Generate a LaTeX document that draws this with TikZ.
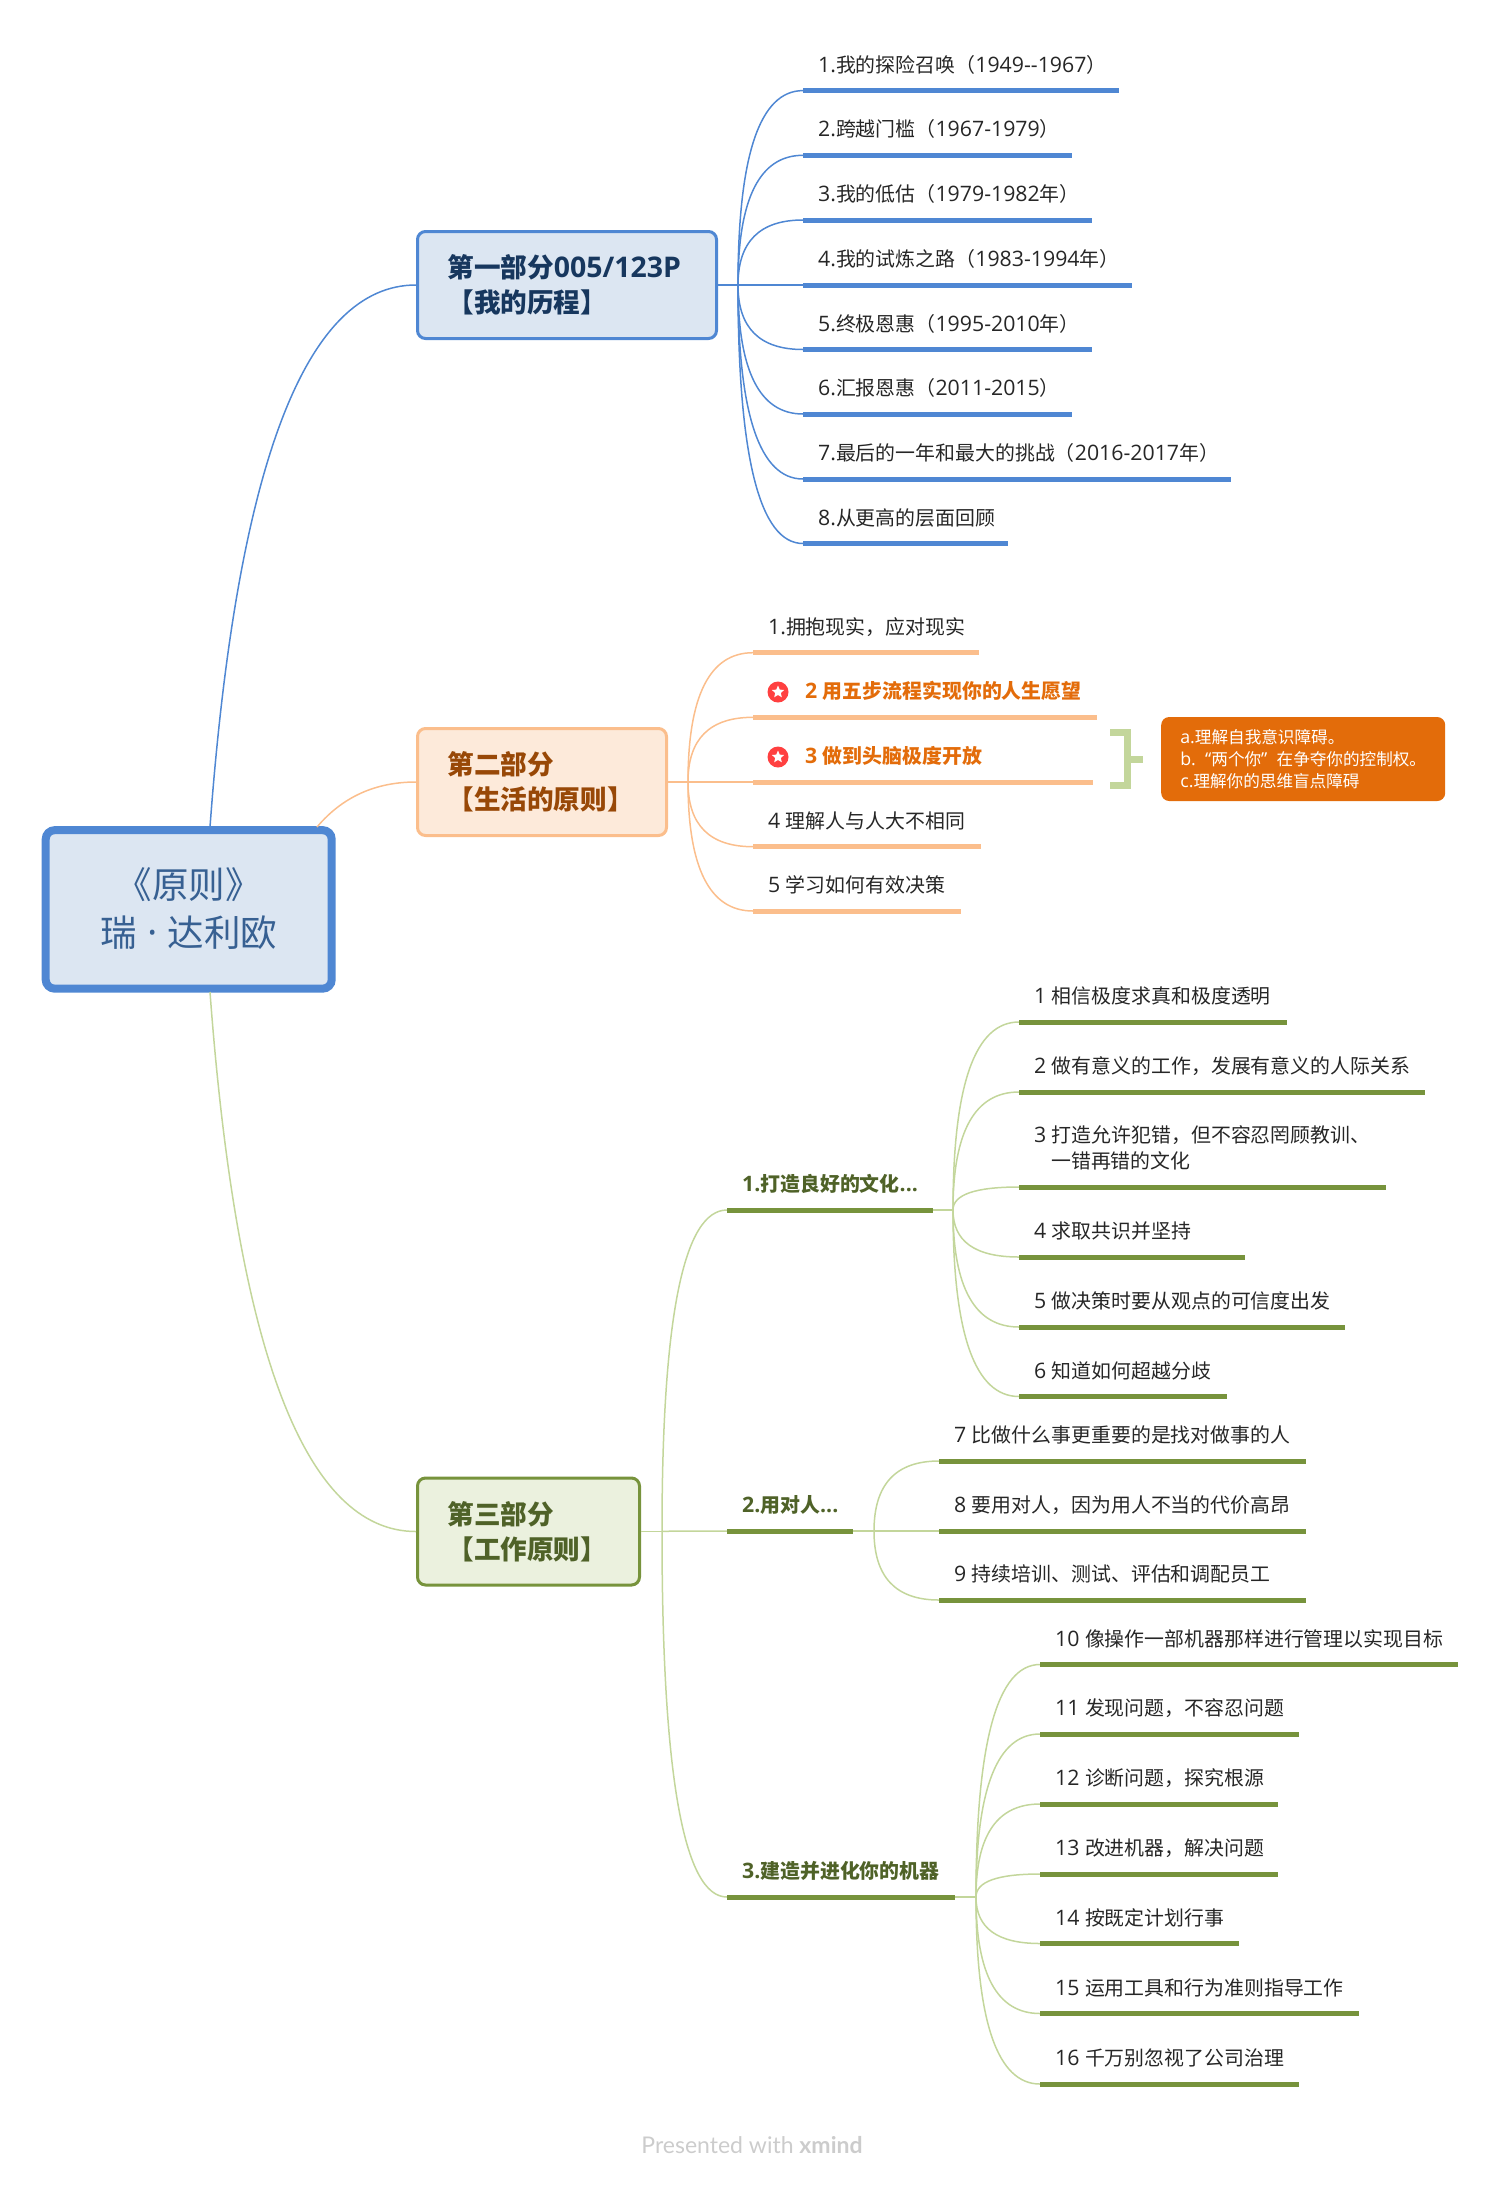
\documentclass[tikz,border=0pt]{standalone}
\usepackage{fontspec}
\setmainfont{Noto Sans CJK SC}
\newfontfamily\latfont[Scale=1.07]{Open Sans}
\newfontfamily\footfont{Lato}
\newcommand\lat[1]{{\latfont #1}}
\usetikzlibrary{calc,shapes.geometric}
\definecolor{blueline}{HTML}{4F87D3}
\definecolor{orangeline}{HTML}{FBBE8C}
\definecolor{greenline}{HTML}{C3D69B}
\definecolor{greenbar}{HTML}{77933C}
\definecolor{bluefill}{HTML}{DCE6F2}
\definecolor{orangefill}{HTML}{FDEADA}
\definecolor{greenfill}{HTML}{EBF1DE}
\definecolor{rootink}{HTML}{376092}
\definecolor{blueink}{HTML}{17375E}
\definecolor{orangeink}{HTML}{984807}
\definecolor{greenink}{HTML}{4F6228}
\definecolor{noteorange}{HTML}{E36C0A}
\definecolor{leafink}{HTML}{262626}
\begin{document}
\begin{tikzpicture}[x=1pt,y=-1pt,
	curved/.style={to path={.. controls ($(\tikztostart)!.667!(#1)$) and ($(\tikztotarget)!.667!(#1)$) .. (\tikztotarget)}},
	root/.style={draw=blueline,fill=bluefill,line width=8pt,rounded corners=9pt,minimum width=286pt,minimum height=158.5pt,align=center,text=rootink,font={\fontsize{36.5}{48}\selectfont}},
	topic/.style={line width=3pt,rounded corners=8pt,minimum height=107pt,inner xsep=30pt,align=left,font={\fontsize{26.6}{35}\selectfont\bfseries}},
	leaf/.style={anchor=west,inner sep=0pt,align=left,text=leafink,font={\fontsize{19.9}{26}\selectfont}},
	bluelink/.style={blueline,line width=1.5pt},
	orangelink/.style={orangeline,line width=1.5pt},
	greenlink/.style={greenline,line width=1.5pt},
	bluebar/.style={blueline,line width=5pt},
	orangebar/.style={orangeline,line width=5pt},
	greenthick/.style={greenbar,line width=5pt},
	starred/.style={leaf,text=noteorange,font={\fontsize{19.9}{26}\selectfont\bfseries}},
	subhead/.style={leaf,text=greenink,font={\fontsize{19.9}{26}\selectfont\bfseries}},
	redcircle/.style={circle,fill=red!75!white,inner sep=0pt,minimum size=21pt},
	whitestar/.style={star,star points=5,star point ratio=2.2,fill=white,inner sep=0pt,minimum size=13pt},
	]
	\useasboundingbox (0,0) rectangle (1500,2185);

	\node[root] (root) at (188.7,909.4) {《原则》\\瑞\lat{ · }达利欧\rule[-5pt]{0pt}{1pt}};
	\node[topic,draw=blueline,fill=bluefill,text=blueink,minimum width=299pt,text width=239pt] (partA) at (567,285) {第一部分\lat{005/123P}\\ 【我的历程】};
	\node[topic,draw=orangeline,fill=orangefill,text=orangeink,minimum width=249pt,text width=189pt] (partB) at (542,782) {第二部分\\ 【生活的原则】};
	\node[topic,draw=greenbar,fill=greenfill,text=greenink,minimum width=222pt,text width=162pt] (partC) at (528.5,1531.5) {第三部分\\ 【工作原则】};

	\coordinate (rootA) at (210,827);
	\coordinate (rootB) at (317,827);
	\coordinate (rootC) at (210,992);
	\coordinate (ctrlA) at (250,285);
	\coordinate (ctrlB) at (355,782);
	\coordinate (ctrlC) at (250,1531.5);
	\draw[bluelink] (rootA) to[curved=ctrlA] (partA.west);
	\draw[orangelink] (rootB) to[curved=ctrlB] (partB.west);
	\draw[greenlink] (rootC) to[curved=ctrlC] (partC.west);

	% part one
	\coordinate (joinA) at (738,285);
	\draw[bluelink] (partA.east) -- (joinA);
	\foreach \n/\y/\xe/\txt in {
		1/90.6/1119/{\lat{1.}我的探险召唤（\lat{1949{-}{-}1967}）},
		2/155.3/1072/{\lat{2.}跨越门槛（\lat{1967-1979}）},
		3/220/1092/{\lat{3.}我的低估（\lat{1979-1982}年）},
		4/285/1132/{\lat{4.}我的试炼之路（\lat{1983-1994}年）},
		5/349.5/1092/{\lat{5.}终极恩惠（\lat{1995-2010}年）},
		6/414/1072/{\lat{6.}汇报恩惠（\lat{2011-2015}）},
		7/479/1231/{\lat{7.}最后的一年和最大的挑战（\lat{2016-2017}年）},
		8/543.5/1008/{\lat{8.}从更高的层面回顾}}{
		\coordinate (as\n) at (803,\y);
		\coordinate (ae\n) at (\xe,\y);
		\node[leaf] (a\n) at ($(as\n)+(15,-26)$) {\txt};
		\draw[bluelink] (joinA) to[curved=joinA|-as\n] (as\n);
		\draw[bluebar] (as\n) -- (ae\n);
	}

	% part two
	\coordinate (joinB) at (688,782);
	\draw[orangelink] (partB.east) -- (joinB);
	\foreach \n/\y/\xe/\lft/\sty/\txt in {
		1/652.7/979/15/leaf/{\lat{1.}拥抱现实，应对现实},
		2/717.3/1097/52/starred/{\lat{2 }用五步流程实现你的人生愿望},
		3/782/1093/52/starred/{\lat{3 }做到头脑极度开放},
		4/846.7/981/15/leaf/{\lat{4 }理解人与人大不相同},
		5/911/961/15/leaf/{\lat{5 }学习如何有效决策}}{
		\coordinate (bs\n) at (753,\y);
		\coordinate (be\n) at (\xe,\y);
		\node[\sty] (b\n) at ($(bs\n)+(\lft,-26)$) {\txt};
		\draw[orangelink] (joinB) to[curved=joinB|-bs\n] (bs\n);
		\draw[orangebar] (bs\n) -- (be\n);
	}
	\node[redcircle] (dotB2) at (778,692) {};
	\node[whitestar] (starB2) at (778,692) {};
	\node[redcircle] (dotB3) at (778,757) {};
	\node[whitestar] (starB3) at (778,757) {};

	% bracket and note
	\node[anchor=west,fill=noteorange,rounded corners=8pt,text=white,align=left,inner xsep=15pt,minimum height=84pt,minimum width=284pt,font={\fontsize{16.6}{22}\selectfont}] (note) at (1161,759) {\lat{a.}理解自我意识障碍。\\\lat{b.\ \ “}两个你\lat{”\ \ }在争夺你的控制权。\\\lat{c.}理解你的思维盲点障碍};
	\coordinate (brTop) at (1110,732.5);
	\coordinate (brLow) at (1110,785.5);
	\coordinate (brTip) at (1143,759);
	\draw[greenline,line width=7pt] (brTop) -- (brTop-|1127.5,0) -- (brLow-|1127.5,0) -- (brLow);
	\draw[greenline,line width=7pt] (brTip-|1127.5,0) -- (brTip);

	% part three
	\coordinate (joinC) at (662,1531.5);
	\draw[greenlink] (partC.east) -- (joinC);
	\foreach \n/\y/\xe/\txt in {
		1/1210/933/{\lat{1.}打造良好的文化\lat{...}},
		2/1531/853/{\lat{2.}用对人\lat{...}},
		3/1897/955/{\lat{3.}建造并进化你的机器}}{
		\coordinate (cs\n) at (727,\y);
		\coordinate (ce\n) at (\xe,\y);
		\node[subhead] (c\n) at ($(cs\n)+(15,-26)$) {\txt};
		\draw[greenlink] (joinC) to[curved=joinC|-cs\n] (cs\n);
		\draw[greenthick] (cs\n) -- (ce\n);
	}

	\coordinate (joinD) at (953,1210);
	\draw[greenlink] (ce1) -- (joinD);
	\foreach \n/\y/\xe/\dy/\txt in {
		1/1022/1287/26/{\lat{1 }相信极度求真和极度透明},
		2/1092/1425/26/{\lat{2 }做有意义的工作，发展有意义的人际关系},
		3/1187/1386/39/{\lat{3 }打造允许犯错，但不容忍罔顾教训、\\\hspace{17pt}一错再错的文化},
		4/1257/1245/26/{\lat{4 }求取共识并坚持},
		5/1327/1345/26/{\lat{5 }做决策时要从观点的可信度出发},
		6/1396.5/1227/26/{\lat{6 }知道如何超越分歧}}{
		\coordinate (ds\n) at (1019,\y);
		\coordinate (de\n) at (\xe,\y);
		\node[leaf] (d\n) at ($(ds\n)+(15,-\dy)$) {\txt};
		\draw[greenlink] (joinD) to[curved=joinD|-ds\n] (ds\n);
		\draw[greenthick] (ds\n) -- (de\n);
	}

	\coordinate (joinE) at (874,1531);
	\draw[greenlink] (ce2) -- (joinE);
	\foreach \n/\y/\txt in {
		7/1461/{\lat{7 }比做什么事更重要的是找对做事的人},
		8/1531/{\lat{8 }要用对人，因为用人不当的代价高昂},
		9/1600/{\lat{9 }持续培训、测试、评估和调配员工}}{
		\coordinate (es\n) at (939,\y);
		\coordinate (ee\n) at (1306,\y);
		\node[leaf] (e\n) at ($(es\n)+(15,-26)$) {\txt};
		\draw[greenlink] (joinE) to[curved=joinE|-es\n] (es\n);
		\draw[greenthick] (es\n) -- (ee\n);
	}

	\coordinate (joinF) at (976,1897);
	\draw[greenlink] (ce3) -- (joinF);
	\foreach \n/\y/\xe/\txt in {
		10/1664.5/1458/{\lat{10 }像操作一部机器那样进行管理以实现目标},
		11/1734/1299/{\lat{11 }发现问题，不容忍问题},
		12/1804/1278/{\lat{12 }诊断问题，探究根源},
		13/1874/1278/{\lat{13 }改进机器，解决问题},
		14/1943.5/1239/{\lat{14 }按既定计划行事},
		15/2013.5/1359/{\lat{15 }运用工具和行为准则指导工作},
		16/2084/1299/{\lat{16 }千万别忽视了公司治理}}{
		\coordinate (fs\n) at (1040,\y);
		\coordinate (fe\n) at (\xe,\y);
		\node[leaf] (f\n) at ($(fs\n)+(15,-26)$) {\txt};
		\draw[greenlink] (joinF) to[curved=joinF|-fs\n] (fs\n);
		\draw[greenthick] (fs\n) -- (fe\n);
	}

	\node[inner sep=0pt,text=black!20,font={\fontsize{23}{26}\footfont}] (credit) at (752,2145) {Presented with \textbf{xmind}};
\end{tikzpicture}
\end{document}
